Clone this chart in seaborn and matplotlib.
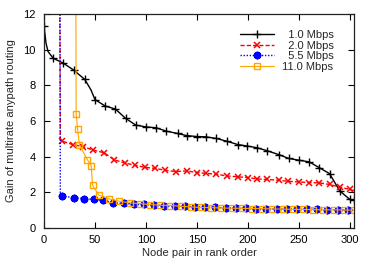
import matplotlib
matplotlib.use('Agg')
import matplotlib.pyplot as plt
import seaborn as sns
import pandas as pd

# 1.0 Mbps
x_1 = [0, 2, 4, 9, 19, 29, 40, 46, 50, 60, 70, 80, 90, 100, 110, 120, 131, 140, 150, 159, 169, 179,
       190, 199, 209, 219, 230, 240, 250, 260, 270, 280, 290, 300, 304]
y_1 = [11.33, 10.36, 9.89, 9.52, 9.24, 8.86, 8.33, 7.75, 7.2, 6.84, 6.67, 6.15, 5.77, 5.67, 5.62, 5.43, 5.3,
       5.18, 5.13, 5.11, 5.02, 4.87, 4.68, 4.6, 4.5, 4.33, 4.12, 3.9, 3.8, 3.71, 3.38, 3.05, 2.08, 1.6, 1.55]

# 2.0 Mbps
x_2 = [15, 16, 18, 28, 38, 48, 59, 69, 79, 89, 99, 109, 119, 129, 140, 150, 159, 169, 179, 190, 200,
       209, 219, 230, 239, 250, 260, 270, 280, 290, 300, 304]
y_2 = [20.0, 5.0, 4.87, 4.68, 4.57, 4.37, 4.22, 3.82, 3.65, 3.52, 3.40, 3.34, 3.24, 3.16, 3.20, 3.11, 3.06,
       3.02, 2.92, 2.87, 2.83, 2.75, 2.72, 2.68, 2.62, 2.58, 2.55, 2.53, 2.44, 2.30, 2.16, 2.10]

# 5.5 Mbps
x_55 = [15.5, 16, 18, 29, 39, 49, 58, 68, 78, 88, 98, 108, 118, 128, 138, 148, 158, 168, 178, 188, 198,
        208, 218, 228, 238, 248, 258, 268, 278, 288, 298, 304]
y_55 = [20.0, 1.8, 1.78, 1.71, 1.65, 1.60, 1.56, 1.41, 1.38, 1.35, 1.32, 1.29, 1.26, 1.23, 1.21, 1.19, 1.17,
        1.15, 1.13, 1.12, 1.10, 1.09, 1.08, 1.07, 1.06, 1.05, 1.05, 1.04, 1.03, 1.02, 1.02, 1.01]

# 11.0 Mbps
x_11 = [31, 31.5, 33, 34.8, 42.4, 46.3, 47.6, 53.8, 63.7, 74, 84, 94, 104, 114, 124, 134, 144, 154, 164,
        174, 184, 194, 204, 214, 224, 234, 244, 254, 264, 274, 284, 294, 304]
y_11 = [20.0, 6.39, 5.53, 4.65, 3.84, 3.5, 2.4, 1.84, 1.63, 1.5, 1.41, 1.37, 1.31, 1.28, 1.26, 1.22, 1.18,
        1.15, 1.14, 1.12, 1.11, 1.10, 1.09, 1.08, 1.07, 1.06, 1.05, 1.04, 1.03, 1.02, 1.02, 1.01, 1.00]

FS = '\u2007'  # figure space, pads labels so they line up on the right
series = [
    (f'{FS}1.0 Mbps', x_1, y_1, dict(color='black', linestyle='-', linewidth=1.0, marker='+', markersize=5.5,
                                     markeredgewidth=1.0,
                                     markevery=[i for i in range(len(x_1)) if i not in (1, 2, 7)])),
    (f'{FS}2.0 Mbps', x_2, y_2, dict(color='#ff0000', linestyle=(0, (3, 1.5)), linewidth=1.0, marker='x',
                                     markersize=5, markeredgewidth=1.1, markevery=list(range(2, len(x_2) - 1)))),
    (f'{FS}5.5 Mbps', x_55, y_55, dict(color='#0000ff', linestyle=(0, (1, 1.2)), linewidth=1.0, marker=(8, 2, 0),
                                       markersize=5.5, markeredgewidth=1.4,
                                       markevery=list(range(2, len(x_55) - 1)))),
    ('11.0 Mbps', x_11, y_11, dict(color='#ffa500', linestyle='-', linewidth=0.8, marker='s', markersize=5,
                                   markeredgewidth=1.0, markerfacecolor='none',
                                   markevery=list(range(1, len(x_11))))),
]

sns.set_style('ticks')
plt.rcParams['font.family'] = ['Liberation Sans', 'DejaVu Sans']
plt.rcParams['font.size'] = 8

fig = plt.figure(figsize=(3.74, 2.62), dpi=100)
ax = fig.add_axes([44 / 374, 34 / 262, 310 / 374, 214 / 262])

handles = []
for label, xs, ys, style in series:
    df = pd.DataFrame({'x': xs, 'y': ys})
    sns.lineplot(data=df, x='x', y='y', ax=ax, estimator=None, sort=False)
    line = ax.lines[-1]
    line.set(markeredgecolor=style['color'], label=label, **style)
    handles.append(line)

ax.set_xlim(0, 304)
ax.set_ylim(0, 12)
ax.set_xticks([0, 50, 100, 150, 200, 250, 300])
ax.set_yticks([0, 2, 4, 6, 8, 10, 12])
ax.tick_params(direction='in', top=True, right=True, length=4, width=0.8, colors='black', labelsize=8)
ax.tick_params(axis='x', pad=5)
ax.tick_params(axis='y', pad=6)
for s in ax.spines.values():
    s.set_linewidth(0.9)
    s.set_color('#222222')

ax.set_xlabel('Node pair in rank order', fontsize=8, labelpad=2)
ax.set_ylabel('Gain of multirate anypath routing', fontsize=8, labelpad=5)

leg = ax.legend(handles=handles, loc='upper right', bbox_to_anchor=(0.935, 0.925), frameon=False, fontsize=8,
                handlelength=3.1, handletextpad=0.7, labelspacing=0.05, borderpad=0, borderaxespad=0)

fig.savefig('out.png', dpi=100)
